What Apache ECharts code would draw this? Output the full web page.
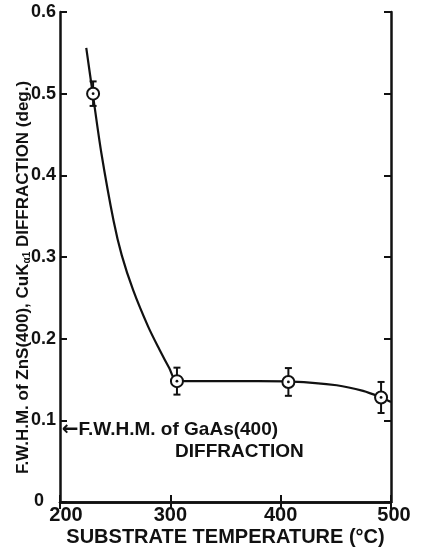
<!DOCTYPE html>
<html>
<head>
<meta charset="utf-8">
<script src="https://cdn.jsdelivr.net/npm/echarts@6/dist/echarts.min.js"></script>
<style>html,body{margin:0;padding:0;background:#fff;}#c{width:422px;height:549px;}</style>
</head>
<body>
<div id="c"></div>
<script>
// Measured points (substrate temperature, FWHM) with error bars
var pointT = [230, 306, 407, 491];
var pointFWHM = [0.500, 0.148, 0.147, 0.128];
var pointErr = [0.015, 0.0165, 0.017, 0.019];

// Hand-drawn fitted curve
var curveT = [223.8, 230, 237.4, 248.6, 256.0, 266.4, 279.8, 290, 299, 306, 340, 380, 410, 450.8, 474.7, 491, 500];
var curveFWHM = [0.556, 0.497, 0.428, 0.344, 0.302, 0.259, 0.215, 0.187, 0.164, 0.148, 0.148, 0.148, 0.1475, 0.143, 0.136, 0.128, 0.1225];

// Axis ticks
var xTicks = [200, 300, 400, 500];
var yTicks = [0, 0.1, 0.2, 0.3, 0.4, 0.5, 0.6];

var FONT = 'Liberation Sans';
var chart = echarts.init(document.getElementById('c'));

var curveData = curveT.map(function (t, i) { return [t, curveFWHM[i]]; });
var pointData = pointT.map(function (t, i) { return [t, pointFWHM[i], pointFWHM[i] - pointErr[i], pointFWHM[i] + pointErr[i]]; });

function renderPoint(params, api) {
  var c = api.coord([api.value(0), api.value(1)]);
  var lo = api.coord([api.value(0), api.value(2)]);
  var hi = api.coord([api.value(0), api.value(3)]);
  var r = 6, cap = 3.5;
  var st = {stroke: '#111', lineWidth: 2};
  return {
    type: 'group',
    children: [
      {type: 'line', shape: {x1: c[0], y1: hi[1], x2: c[0], y2: lo[1]}, style: st},
      {type: 'line', shape: {x1: c[0] - cap, y1: hi[1], x2: c[0] + cap, y2: hi[1]}, style: st},
      {type: 'line', shape: {x1: c[0] - cap, y1: lo[1], x2: c[0] + cap, y2: lo[1]}, style: st},
      {type: 'circle', shape: {cx: c[0], cy: c[1], r: r}, style: {fill: '#fff', stroke: '#111', lineWidth: 2}},
      {type: 'circle', shape: {cx: c[0], cy: c[1], r: 1.4}, style: {fill: '#111'}}
    ]
  };
}

var axisLineStyle = {color: '#111', width: 2.5};
var labelFont = {fontFamily: FONT, fontSize: 20, fontWeight: 'bold', color: '#111'};

var option = {
  backgroundColor: '#fff',
  animation: false,
  grid: {left: 60, right: 31, top: 12, bottom: 47, outerBoundsMode: 'none', containLabel: false},
  xAxis: [{
    type: 'value', min: 200, max: 500, interval: 100,
    axisLine: {lineStyle: axisLineStyle},
    axisTick: {inside: true, length: 7, lineStyle: {color: '#111', width: 2}},
    splitLine: {show: false},
    axisLabel: {fontFamily: FONT, fontSize: 20, fontWeight: 'bold', color: '#111', margin: 3,
      formatter: function (v) {
        if (xTicks.indexOf(v) < 0) return '';
        if (v === xTicks[0]) return '{f|' + v + '}';
        if (v === xTicks[xTicks.length - 1]) return '{l|' + v + '}';
        return String(v);
      },
      rich: {
        f: Object.assign({padding: [0, 0, 0, 12]}, labelFont),
        l: Object.assign({padding: [0, 0, 0, 6]}, labelFont)
      }},
    name: 'SUBSTRATE TEMPERATURE (°C)', nameLocation: 'middle', nameGap: 25, nameMoveOverlap: false,
    nameTextStyle: {fontFamily: FONT, fontSize: 20, fontWeight: 'bold', color: '#111'}
  }, {
    type: 'value', position: 'top', min: 200, max: 500, interval: 100,
    axisLine: {lineStyle: axisLineStyle},
    axisTick: {inside: true, length: 7, lineStyle: {color: '#111', width: 2}},
    axisLabel: {show: false}, splitLine: {show: false}
  }],
  yAxis: [{
    type: 'value', min: 0, max: 0.6, interval: 0.1,
    axisLine: {lineStyle: axisLineStyle},
    axisTick: {inside: true, length: 7, lineStyle: {color: '#111', width: 2}},
    splitLine: {show: false},
    axisLabel: {fontFamily: FONT, fontSize: 18, fontWeight: 'bold', color: '#111', margin: 4,
      formatter: function (v) {
        var t = yTicks.filter(function (y) { return Math.abs(y - v) < 1e-9; });
        if (!t.length) return '';
        return v === 0 ? '{z|0}' : v.toFixed(1);
      },
      rich: {z: {fontFamily: FONT, fontSize: 18, fontWeight: 'bold', color: '#111', padding: [0, 12, 2, 0]}}
    },
    name: 'F.W.H.M. of ZnS(400), CuK{sub|α1} DIFFRACTION (deg.)', nameLocation: 'middle', nameGap: 28, nameRotate: 90, nameMoveOverlap: false,
    nameTextStyle: {fontFamily: FONT, fontSize: 17, fontWeight: 'bold', color: '#111', padding: [0, 41, 0, 0],
      rich: {sub: {fontFamily: FONT, fontSize: 10, fontWeight: 'bold', color: '#111', verticalAlign: 'bottom', padding: [8, 0, 0, 0]}}}
  }, {
    type: 'value', position: 'right', min: 0, max: 0.6, interval: 0.1,
    axisLine: {lineStyle: axisLineStyle},
    axisTick: {inside: true, length: 7, lineStyle: {color: '#111', width: 2}},
    axisLabel: {show: false}, splitLine: {show: false}
  }],
  series: [{
    type: 'line', data: curveData, smooth: 0.3, showSymbol: false,
    lineStyle: {color: '#111', width: 2.2}, z: 2,
    markPoint: {
      symbol: 'circle', symbolSize: 0, silent: true,
      data: [
        {coord: [201.6, 0.089], label: {show: true, position: 'right', distance: 0, formatter: '{a|←}F.W.H.M. of GaAs(400)',
          fontFamily: FONT, fontSize: 19, fontWeight: 'bold', color: '#111',
          rich: {a: {fontFamily: 'DejaVu Sans', fontSize: 20, fontWeight: 'bold', color: '#111'}}}},
        {coord: [304.3, 0.061], label: {show: true, position: 'right', distance: 0, formatter: 'DIFFRACTION',
          fontFamily: FONT, fontSize: 19, fontWeight: 'bold', color: '#111'}}
      ]
    }
  }, {
    type: 'custom', data: pointData, renderItem: renderPoint, z: 3,
    encode: {x: 0, y: [1, 2, 3]}
  }]
};
chart.setOption(option);
</script>
</body>
</html>
